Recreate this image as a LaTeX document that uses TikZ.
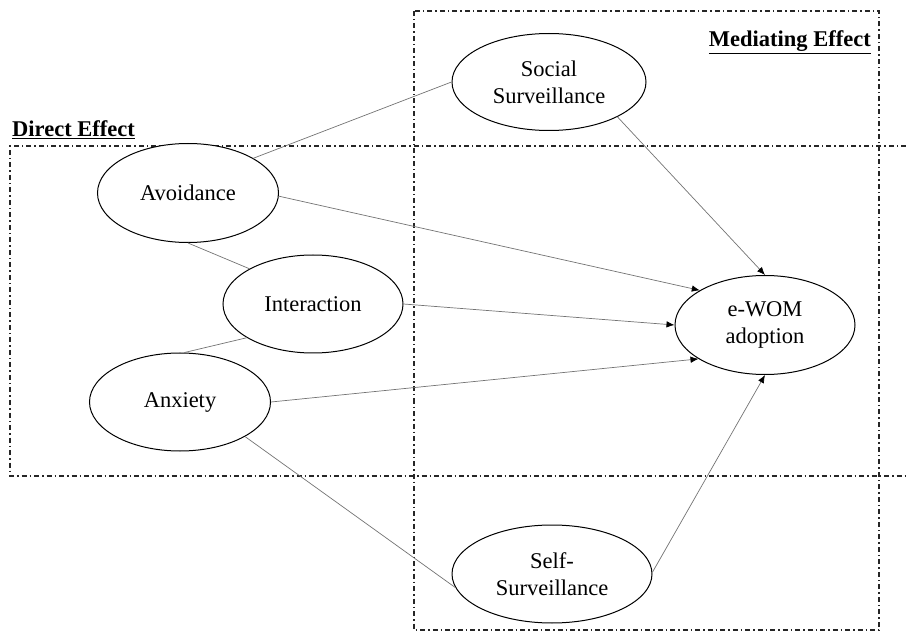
\documentclass[tikz,border=0pt]{standalone}
\usepackage{fontspec}
\setmainfont{Liberation Serif}
\usetikzlibrary{shapes.geometric,arrows.meta}
\tikzset{
  latent/.style={ellipse, draw=black, line width=1pt, fill=white, inner sep=0pt, align=center,
    font=\fontsize{22.5}{27}\selectfont},
  link/.style={draw=black!55, line width=0.7pt},
  path/.style={link, -{Latex[length=8pt,width=6.5pt,color=black]}},
  region/.style={draw=black!85, line width=1.1pt, dash pattern=on 5pt off 3pt on 1.5pt off 3pt},
  heading/.style={font=\fontsize{22.5}{27}\selectfont\bfseries, inner sep=0pt}
}
\begin{document}
\begin{tikzpicture}[x=1pt,y=-1pt]
\useasboundingbox (0,0) rectangle (906,631);
\clip (0,0) rectangle (906,631);
% regions
\draw[region] (906,146) -- (10,146) -- (10,476) -- (906,476);
\draw[region] (414,11) rectangle (879,630);
\node[heading, anchor=base west] (direct) at (12,137) {\underline{Direct Effect}};
\node[heading, anchor=base east] (mediating) at (871,47) {\underline{Mediating Effect}};
% constructs
\node[latent, minimum width=194pt, minimum height=97pt] (social) at (549,82) {Social\\Surveillance};
\node[latent, minimum width=181pt, minimum height=99pt] (avoid) at (188,193) {Avoidance};
\node[latent, minimum width=180pt, minimum height=98pt] (inter) at (313,304) {Interaction};
\node[latent, minimum width=181pt, minimum height=98pt] (anx) at (180,402) {Anxiety};
\node[latent, minimum width=180pt, minimum height=99pt] (ewom) at (765,325) {e-WOM\\adoption};
\node[latent, minimum width=200pt, minimum height=98pt] (self) at (552,574) {Self-\\Surveillance};
% connectors
\draw[link] (avoid.28) -- (social.west);
\draw[link] (avoid.south) -- (inter.151);
\draw[link] (inter.207) -- (anx.85);
\draw[link] (anx.-28) -- (self.188);
\draw[path] (avoid.-2) -- (ewom.152);
\draw[path] (social.-27) -- (ewom.north);
\draw[path] (inter.east) -- (ewom.west);
\draw[path] (anx.east) -- (ewom.207);
\draw[path] (self.1) -- (ewom.south);
\end{tikzpicture}
\end{document}
